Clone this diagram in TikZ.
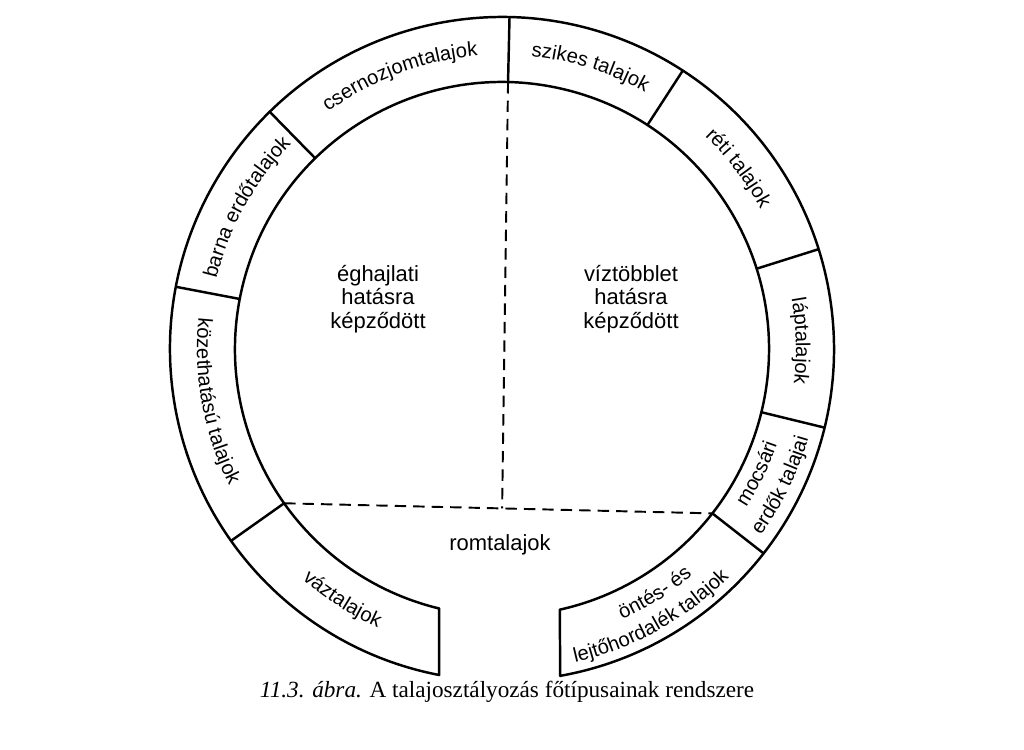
\documentclass[tikz,border=0pt]{standalone}
\usepackage{fontspec}
\setmainfont{Liberation Serif}
\setsansfont{Liberation Sans}
\usetikzlibrary{calc,decorations.text}

\newcommand{\ringfont}{\sffamily\fontsize{11.5}{13}\selectfont}
\newcommand{\innerfont}{\sffamily\fontsize{12.5}{13.3}\selectfont}

\begin{document}
\begin{tikzpicture}[x=0.02cm, y=0.02cm,
  ring/.style={line width=1.4pt, line join=round},
  dashline/.style={line width=1.1pt, dash pattern=on 6.5pt off 4pt},
  arclabel/.style={decorate, decoration={text along path, text align=center, text={|\ringfont|#1}}},
  inlabel/.style={font=\innerfont, align=center}]
\useasboundingbox (-502,-401) rectangle (522,349);

% the open ring
\draw[ring] (-79.9:332) arc[start angle=-79.9, end angle=259.1, radius=332]
  -- (256.4:267) arc[start angle=256.4, end angle=-77.5, radius=267] -- cycle;
\foreach \a in {88.7,57,17.5,-13.7,-38,134.4,169.2,215.3}
  \draw[ring] (\a:267) -- (\a:332);

% dashed borders inside
\coordinate (top) at (88.7:267);
\coordinate (left) at (215.3:267);
\coordinate (right) at (-38:267);
\coordinate (meet) at ($(left)!0.509!(right)$);
\draw[dashline] (left) -- (right);
\draw[dashline] (top) -- (meet);

% labels in the ring, clockwise
\path[arclabel=csernozjomtalajok] (150.5:294) arc[start angle=150.5, end angle=70.5, radius=294];
\path[arclabel=szikes talajok] (112.6:294) arc[start angle=112.6, end angle=32.6, radius=294];
\path[arclabel=réti talajok] (77.4:294) arc[start angle=77.4, end angle=-2.6, radius=294];
\path[arclabel=láptalajok] (41.5:294) arc[start angle=41.5, end angle=-38.5, radius=294];
\path[arclabel=barna erdőtalajok] (191:294) arc[start angle=191, end angle=111, radius=294];

% labels in the ring, counterclockwise
\path[arclabel=közethatású talajok] (150.3:305) arc[start angle=150.3, end angle=230.3, radius=305];
\path[arclabel=váztalajok] (207.5:305) arc[start angle=207.5, end angle=267.5, radius=305];
\path[arclabel=mocsári] (-56:291) arc[start angle=-56, end angle=4, radius=291];
\path[arclabel=erdők talajai] (-56:319) arc[start angle=-56, end angle=4, radius=319];
\path[arclabel=öntés- és] (-88:296) arc[start angle=-88, end angle=-28, radius=296];
\path[arclabel=lejtőhordalék talajok] (-96:322) arc[start angle=-96, end angle=-26, radius=322];

% inner labels
\node[inlabel] (climate) at (-124,50) {éghajlati\\hatásra\\képződött};
\node[inlabel] (water) at (129,50) {víztöbblet\\hatásra\\képződött};
\node[inlabel] (ruin) at (-2,-196) {romtalajok};

\node[font=\fontsize{13.2}{15}\selectfont] (caption) at (5,-343)
  {\textit{11.3. ábra.} A talajosztályozás főtípusainak rendszere};
\end{tikzpicture}
\end{document}
